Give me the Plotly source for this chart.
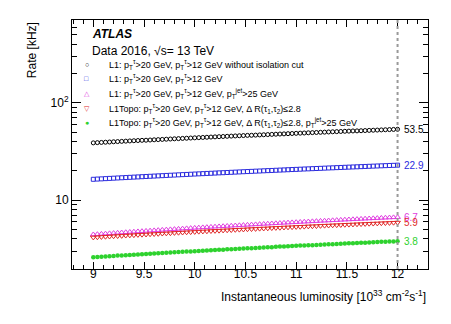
import numpy as np
import plotly.graph_objects as go

# instantaneous luminosity bins [1e33 cm-2 s-1]
lumi = [round(9.0 + 0.04 * i, 2) for i in range(76)]

rate_noiso = [
    38.8, 39.0, 39.2, 39.4, 39.6, 39.8, 40.0, 40.2, 40.4, 40.6,
    40.8, 41.0, 41.2, 41.3, 41.5, 41.7, 41.9, 42.1, 42.3, 42.5,
    42.7, 42.9, 43.1, 43.3, 43.5, 43.7, 43.9, 44.1, 44.3, 44.5,
    44.7, 44.9, 45.1, 45.3, 45.5, 45.7, 45.9, 46.1, 46.3, 46.4,
    46.6, 46.8, 47.0, 47.2, 47.4, 47.6, 47.8, 48.0, 48.2, 48.4,
    48.6, 48.8, 49.0, 49.2, 49.4, 49.6, 49.8, 50.0, 50.2, 50.4,
    50.6, 50.8, 51.0, 51.2, 51.4, 51.5, 51.7, 51.9, 52.1, 52.3,
    52.5, 52.7, 52.9, 53.1, 53.3, 53.5,
]
rate_l1 = [
    16.40, 16.49, 16.57, 16.66, 16.75, 16.83, 16.92, 17.01, 17.09, 17.18,
    17.27, 17.35, 17.44, 17.53, 17.61, 17.70, 17.79, 17.87, 17.96, 18.05,
    18.13, 18.22, 18.31, 18.39, 18.48, 18.57, 18.65, 18.74, 18.83, 18.91,
    19.00, 19.09, 19.17, 19.26, 19.35, 19.43, 19.52, 19.61, 19.69, 19.78,
    19.87, 19.95, 20.04, 20.13, 20.21, 20.30, 20.39, 20.47, 20.56, 20.65,
    20.73, 20.82, 20.91, 20.99, 21.08, 21.17, 21.25, 21.34, 21.43, 21.51,
    21.60, 21.69, 21.77, 21.86, 21.95, 22.03, 22.12, 22.21, 22.29, 22.38,
    22.47, 22.55, 22.64, 22.73, 22.81, 22.90,
]
rate_l1_jet = [
    4.45, 4.48, 4.51, 4.54, 4.57, 4.60, 4.63, 4.66, 4.69, 4.72,
    4.75, 4.78, 4.81, 4.84, 4.87, 4.90, 4.93, 4.96, 4.99, 5.02,
    5.05, 5.08, 5.11, 5.14, 5.17, 5.20, 5.23, 5.26, 5.29, 5.32,
    5.35, 5.38, 5.41, 5.44, 5.47, 5.50, 5.53, 5.56, 5.59, 5.62,
    5.65, 5.68, 5.71, 5.74, 5.77, 5.80, 5.83, 5.86, 5.89, 5.92,
    5.95, 5.98, 6.01, 6.04, 6.07, 6.10, 6.13, 6.16, 6.19, 6.22,
    6.25, 6.28, 6.31, 6.34, 6.37, 6.40, 6.43, 6.46, 6.49, 6.52,
    6.55, 6.58, 6.61, 6.64, 6.67, 6.70,
]
rate_topo = [
    4.15, 4.17, 4.20, 4.22, 4.24, 4.27, 4.29, 4.31, 4.34, 4.36,
    4.38, 4.41, 4.43, 4.45, 4.48, 4.50, 4.52, 4.55, 4.57, 4.59,
    4.62, 4.64, 4.66, 4.69, 4.71, 4.73, 4.76, 4.78, 4.80, 4.83,
    4.85, 4.87, 4.90, 4.92, 4.94, 4.97, 4.99, 5.01, 5.04, 5.06,
    5.08, 5.11, 5.13, 5.15, 5.18, 5.20, 5.22, 5.25, 5.27, 5.29,
    5.32, 5.34, 5.36, 5.39, 5.41, 5.43, 5.46, 5.48, 5.50, 5.53,
    5.55, 5.57, 5.60, 5.62, 5.64, 5.67, 5.69, 5.71, 5.74, 5.76,
    5.78, 5.81, 5.83, 5.85, 5.88, 5.90,
]
rate_topo_jet = [
    2.60, 2.62, 2.63, 2.65, 2.66, 2.68, 2.70, 2.71, 2.73, 2.74,
    2.76, 2.78, 2.79, 2.81, 2.82, 2.84, 2.86, 2.87, 2.89, 2.90,
    2.92, 2.94, 2.95, 2.97, 2.98, 3.00, 3.02, 3.03, 3.05, 3.06,
    3.08, 3.10, 3.11, 3.13, 3.14, 3.16, 3.18, 3.19, 3.21, 3.22,
    3.24, 3.26, 3.27, 3.29, 3.30, 3.32, 3.34, 3.35, 3.37, 3.38,
    3.40, 3.42, 3.43, 3.45, 3.46, 3.48, 3.50, 3.51, 3.53, 3.54,
    3.56, 3.58, 3.59, 3.61, 3.62, 3.64, 3.66, 3.67, 3.69, 3.70,
    3.72, 3.74, 3.75, 3.77, 3.78, 3.80,
]

ptt = "p<sub>T</sub><sup>τ</sup>"
ptj = "p<sub>T</sub><sup>jet</sup>"
dr = "Δ R(τ<sub>1</sub>,τ<sub>2</sub>)≤2.8"
# values, legend text, colour, marker, size, legend glyph, end label
series = [
    (rate_noiso, f"L1: {ptt}>20 GeV, {ptt}>12 GeV without isolation cut", "black", "circle-open", 4, "○", "53.5"),
    (rate_l1, f"L1: {ptt}>20 GeV, {ptt}>12 GeV", "#2b2bdd", "square-open", 4, "□", "22.9"),
    (rate_l1_jet, f"L1: {ptt}>20 GeV, {ptt}>12 GeV, {ptj}>25 GeV", "#e03ce0", "triangle-up-open", 5, "△", "6.7"),
    (rate_topo, f"L1Topo: {ptt}>20 GeV, {ptt}>12 GeV, {dr}", "#e02828", "triangle-down-open", 5, "▽", "5.9"),
    (rate_topo_jet, f"L1Topo: {ptt}>20 GeV, {ptt}>12 GeV, {dr}, {ptj}>25 GeV", "#2ed22e", "circle", 4.5, "●", "3.8"),
]

fig = go.Figure()
leg_y = 0.823  # first legend row, paper coords
leg_step = 0.059
for i, (vals, name, col, sym, sz, glyph, lab) in enumerate(series):
    lw = 0 if sym == "circle" else 1
    fig.add_trace(go.Scatter(
        x=lumi, y=vals, name=name, mode="markers", showlegend=False,
        marker=dict(symbol=sym, size=sz, color=col, line=dict(width=lw, color=col)),
    ))
    fig.add_annotation(x=lumi[-1], y=np.log10(vals[-1]), text=lab, showarrow=False,
                       xanchor="left", xshift=4, font=dict(size=10, color=col))
    # hand-made legend (ROOT style, tight rows)
    fig.add_annotation(x=0.042, y=leg_y - i * leg_step, xref="paper", yref="paper", text=glyph,
                       showarrow=False, xanchor="center", yanchor="middle", font=dict(size=7, color=col))
    fig.add_annotation(x=0.098, y=leg_y - i * leg_step, xref="paper", yref="paper", text=name,
                       showarrow=False, xanchor="left", yanchor="middle", font=dict(size=9, color="black"))

fig.add_shape(type="line", x0=12, x1=12, y0=0, y1=1, yref="paper",
              line=dict(color="#999999", width=2, dash="dot"))

fig.add_annotation(x=0.05, y=0.944, xref="paper", yref="paper", text="<b><i>ATLAS</i></b>",
                   showarrow=False, xanchor="left", yanchor="middle", font=dict(size=12, color="black"))
fig.add_annotation(x=0.05, y=0.876, xref="paper", yref="paper", text="Data 2016, √s= 13 TeV",
                   showarrow=False, xanchor="left", yanchor="middle", font=dict(size=12, color="black"))
fig.add_annotation(x=-0.112, y=1, xref="paper", yref="paper", text="Rate [kHz]", textangle=-90,
                   showarrow=False, xanchor="center", yanchor="top", font=dict(size=12, color="black"))
fig.add_annotation(x=1, y=-0.108, xref="paper", yref="paper",
                   text="Instantaneous luminosity [10<sup>33</sup> cm<sup>-2</sup>s<sup>-1</sup>]",
                   showarrow=False, xanchor="right", yanchor="middle", font=dict(size=12, color="black"))

minor_y = [2, 3, 4, 5, 6, 7, 8, 9, 20, 30, 40, 50, 60, 70, 80, 90, 200, 300, 400, 500, 600, 700]

fig.update_layout(
    width=451, height=324,
    margin=dict(l=72, r=23, t=20, b=55, autoexpand=False),
    paper_bgcolor="white", plot_bgcolor="white",
    font=dict(family="Liberation Sans, Arial, sans-serif", color="black"),
    showlegend=False,
    xaxis=dict(range=[8.79, 12.3], showgrid=False, zeroline=False, showline=True, linecolor="black",
               mirror="ticks", ticks="inside", ticklen=7, tickcolor="black", dtick=0.5, tick0=9,
               tickfont=dict(size=12), ticklabelstandoff=-6, automargin=False,
               minor=dict(ticks="inside", ticklen=4, dtick=0.1, tickcolor="black", showgrid=False)),
    yaxis=dict(type="log", range=[0.294, 2.85], showgrid=False, zeroline=False, showline=True,
               linecolor="black", mirror="ticks", ticks="inside", ticklen=9, tickcolor="black",
               tickvals=[10, 100], ticktext=["10", "10<sup>2</sup>"], tickfont=dict(size=12),
               automargin=False,
               minor=dict(ticks="inside", ticklen=5, tickvals=minor_y, tickcolor="black", showgrid=False)),
)

# drop the default page margin so the figure sits at the window corner
fig.write_html("out.html", config={"displayModeBar": False},
               post_script="document.body.style.margin='0';")
